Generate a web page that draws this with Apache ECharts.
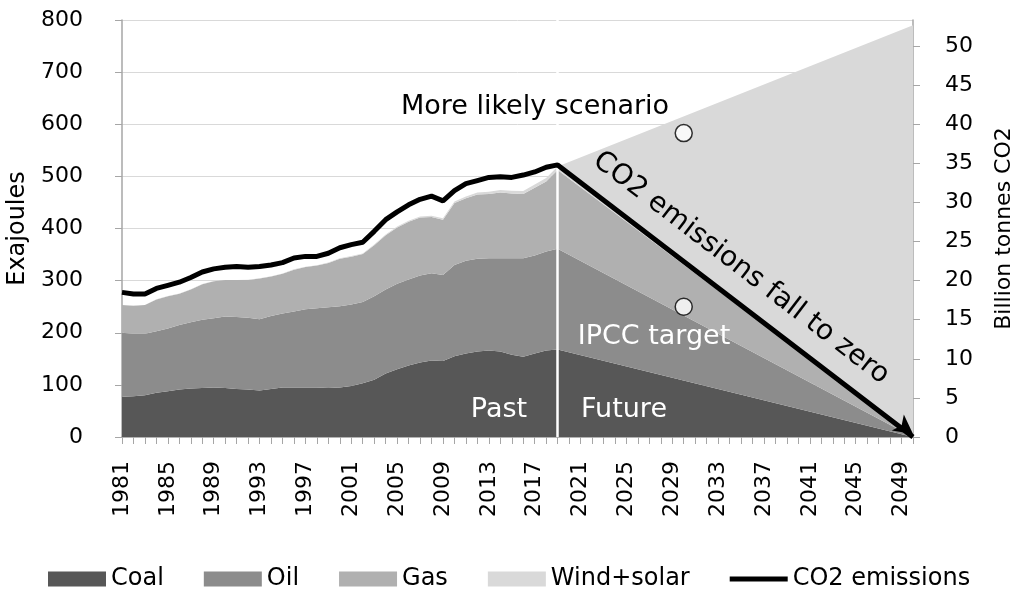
<!DOCTYPE html>
<html>
<head>
<meta charset="utf-8">
<script src="https://cdn.jsdelivr.net/npm/echarts@6/dist/echarts.min.js"></script>
<style>
  body { margin: 0; background: #fff; }
  #chart-container { width: 1019px; height: 590px; }
</style>
</head>
<body>
<div id="chart-container"></div>
<script>
// categories: every year 1981 - 2050
const years = [];
for (let y = 1981; y <= 2050; y++) years.push(String(y));

// past energy use 1981-2019, exajoules
const coalPast = [77, 78, 80, 85, 88, 91, 93, 94, 95, 94, 92, 91, 89, 92, 95, 95, 95, 95, 94, 95,
  98, 103, 110, 122, 130, 137, 143, 147, 146, 155, 160, 164, 166, 164, 158, 154, 160, 166, 168];
const oilPast = [123, 120, 118, 118, 120, 124, 127, 131, 133, 137, 138, 138, 137, 140, 142, 146, 150, 152, 155, 156,
  156, 156, 160, 161, 164, 165, 167, 167, 165, 175, 178, 178, 177, 179, 185, 189, 188, 190, 193];
const gasPast = [53, 54, 55, 61, 62, 60, 63, 68, 71, 70, 71, 72, 78, 76, 76, 80, 81, 82, 85, 91,
  92, 92, 98, 104, 108, 111, 111, 108, 106, 119, 120, 123, 123, 126, 124, 123, 130, 134, 151];
const windPast = [0.2, 0.2, 0.2, 0.2, 0.3, 0.3, 0.3, 0.3, 0.4, 0.4, 0.4, 0.5, 0.5, 0.5, 0.6, 0.6, 0.7, 0.7, 0.8, 1.0,
  1.1, 1.2, 1.4, 1.6, 1.8, 2.0, 2.2, 2.5, 2.8, 3, 3.5, 4, 4.5, 5, 5.5, 6, 6.5, 7, 7];
// CO2 emissions, billion tonnes
const co2Past = [18.5, 18.3, 18.3, 19.0, 19.4, 19.8, 20.4, 21.1, 21.5, 21.7, 21.8, 21.7, 21.8, 22.0, 22.3, 22.9, 23.1, 23.1, 23.5, 24.2,
  24.6, 24.9, 26.3, 27.8, 28.8, 29.7, 30.4, 30.8, 30.2, 31.5, 32.4, 32.8, 33.2, 33.3, 33.2, 33.5, 33.9, 34.5, 34.8];

// scenario end points in 2050 (straight lines from 2019)
const endYear = '2050';
const coalEnd = 0, oilEnd = 0, gasEnd = 0, windEnd = 790, co2End = 0;

// scenario markers in 2030
const markerYears = ['2030', '2030'];
const markerValues = [583, 250];

const leftTicks = { min: 0, max: 800, interval: 100 };
const rightTicks = { min: 0, max: 800 / 15, interval: 5 };

// [year, value] pairs: past years, then one jump to 2050
function pairs(past, end) {
  const out = past.map(function (v, i) { return [years[i], v]; });
  out.push([endYear, end]);
  return out;
}

const font = '"DejaVu Sans", sans-serif';

var dom = document.getElementById('chart-container');
var myChart = echarts.init(dom, null, { renderer: 'canvas' });

function areaSeries(name, color, past, end) {
  return {
    name: name,
    type: 'line',
    stack: 'energy',
    yAxisIndex: 0,
    symbol: 'none',
    lineStyle: { width: 0 },
    itemStyle: { color: color },
    areaStyle: { color: color, opacity: 1 },
    data: pairs(past, end)
  };
}

const co2Data = pairs(co2Past, co2End);
co2Data[co2Data.length - 1] = {
  value: co2Data[co2Data.length - 1],
  symbol: 'arrow',
  symbolSize: [15, 19],
  symbolRotate: -127,
  symbolOffset: [0, -3]
};

const windSeries = areaSeries('Wind+solar', '#d9d9d9', windPast, windEnd);
windSeries.markLine = {
  silent: true,
  symbol: 'none',
  label: { show: false },
  lineStyle: { color: '#fff', width: 2.5, type: 'solid' },
  data: [{ xAxis: '2019' }]
};

// thin bar icon for the line legend entry (zero-area corners keep the box)
const lineIcon = 'path://M0,0L0.01,0Z M0,5L58,5L58,10L0,10Z M0,15L0.01,15Z';

var option = {
  animation: false,
  textStyle: { fontFamily: font },
  grid: { left: 122, right: 106, top: 20, bottom: 153, outerBoundsMode: 'none' },
  legend: {
    data: [
      { name: 'Coal', icon: 'rect' },
      { name: 'Oil', icon: 'rect' },
      { name: 'Gas', icon: 'rect' },
      { name: 'Wind+solar', icon: 'rect' },
      { name: 'CO2 emissions', icon: lineIcon }
    ],
    left: 43,
    top: 562,
    itemWidth: 58,
    itemHeight: 15,
    itemGap: 40,
    textStyle: { fontSize: 24, color: '#000', fontFamily: font }
  },
  xAxis: {
    type: 'category',
    boundaryGap: false,
    data: years,
    axisLine: { lineStyle: { color: '#a6a6a6', width: 1.5 } },
    axisTick: { interval: 0, length: 7, lineStyle: { color: '#a6a6a6' } },
    axisLabel: { interval: 3, rotate: 90, fontSize: 22, color: '#000', margin: 24 }
  },
  yAxis: [
    {
      type: 'value',
      min: leftTicks.min, max: leftTicks.max, interval: leftTicks.interval,
      name: 'Exajoules',
      nameLocation: 'middle',
      nameRotate: 90,
      nameGap: 80,
      nameTextStyle: { fontSize: 24, color: '#000' },
      axisLine: { show: true, lineStyle: { color: '#a6a6a6', width: 1.5 } },
      axisTick: { show: true, length: 7, lineStyle: { color: '#a6a6a6' } },
      axisLabel: { fontSize: 22, color: '#000', margin: 39 },
      splitLine: { show: true, lineStyle: { color: '#d9d9d9', width: 1 } }
    },
    {
      type: 'value',
      min: rightTicks.min, max: rightTicks.max, interval: rightTicks.interval,
      alignTicks: false,
      name: 'Billion tonnes CO2',
      nameLocation: 'middle',
      nameRotate: 90,
      nameGap: 80,
      nameTextStyle: { fontSize: 22, color: '#000' },
      axisLine: { show: true, lineStyle: { color: '#a6a6a6', width: 1.5 } },
      axisTick: { show: true, length: 7, lineStyle: { color: '#a6a6a6' } },
      axisLabel: {
        fontSize: 22, color: '#000', margin: 32, showMaxLabel: false,
        formatter: function (v) { return v % 5 === 0 ? String(v) : ''; }
      },
      splitLine: { show: false }
    }
  ],
  series: [
    areaSeries('Coal', '#575757', coalPast, coalEnd),
    areaSeries('Oil', '#8c8c8c', oilPast, oilEnd),
    areaSeries('Gas', '#b0b0b0', gasPast, gasEnd),
    windSeries,
    {
      name: 'CO2 emissions',
      type: 'line',
      yAxisIndex: 1,
      symbol: 'none',
      showSymbol: true,
      z: 5,
      lineStyle: { color: '#000', width: 5 },
      itemStyle: { color: '#000' },
      data: co2Data
    },
    {
      type: 'scatter',
      yAxisIndex: 0,
      z: 6,
      symbol: 'circle',
      symbolSize: 17,
      itemStyle: { color: '#fff', borderColor: '#000', borderWidth: 1.5 },
      data: markerYears.map(function (y, i) { return [y, markerValues[i]]; })
    }
  ],
  graphic: [
    { type: 'text', x: 535, y: 107, z: 10,
      style: { text: 'More likely scenario', font: '27px ' + font, fill: '#000', align: 'center', verticalAlign: 'middle' } },
    { type: 'text', x: 741, y: 268, rotation: -37.4 * Math.PI / 180, z: 10,
      style: { text: 'CO2 emissions fall to zero', font: '28px ' + font, fill: '#000', align: 'center', verticalAlign: 'middle' } },
    { type: 'text', x: 654, y: 337, z: 10,
      style: { text: 'IPCC target', font: '27px ' + font, fill: '#fff', align: 'center', verticalAlign: 'middle' } },
    { type: 'text', x: 499, y: 410, z: 10,
      style: { text: 'Past', font: '27px ' + font, fill: '#fff', align: 'center', verticalAlign: 'middle' } },
    { type: 'text', x: 624, y: 410, z: 10,
      style: { text: 'Future', font: '27px ' + font, fill: '#fff', align: 'center', verticalAlign: 'middle' } }
  ]
};

if (option && typeof option === 'object') {
  myChart.setOption(option);
}
</script>
</body>
</html>
